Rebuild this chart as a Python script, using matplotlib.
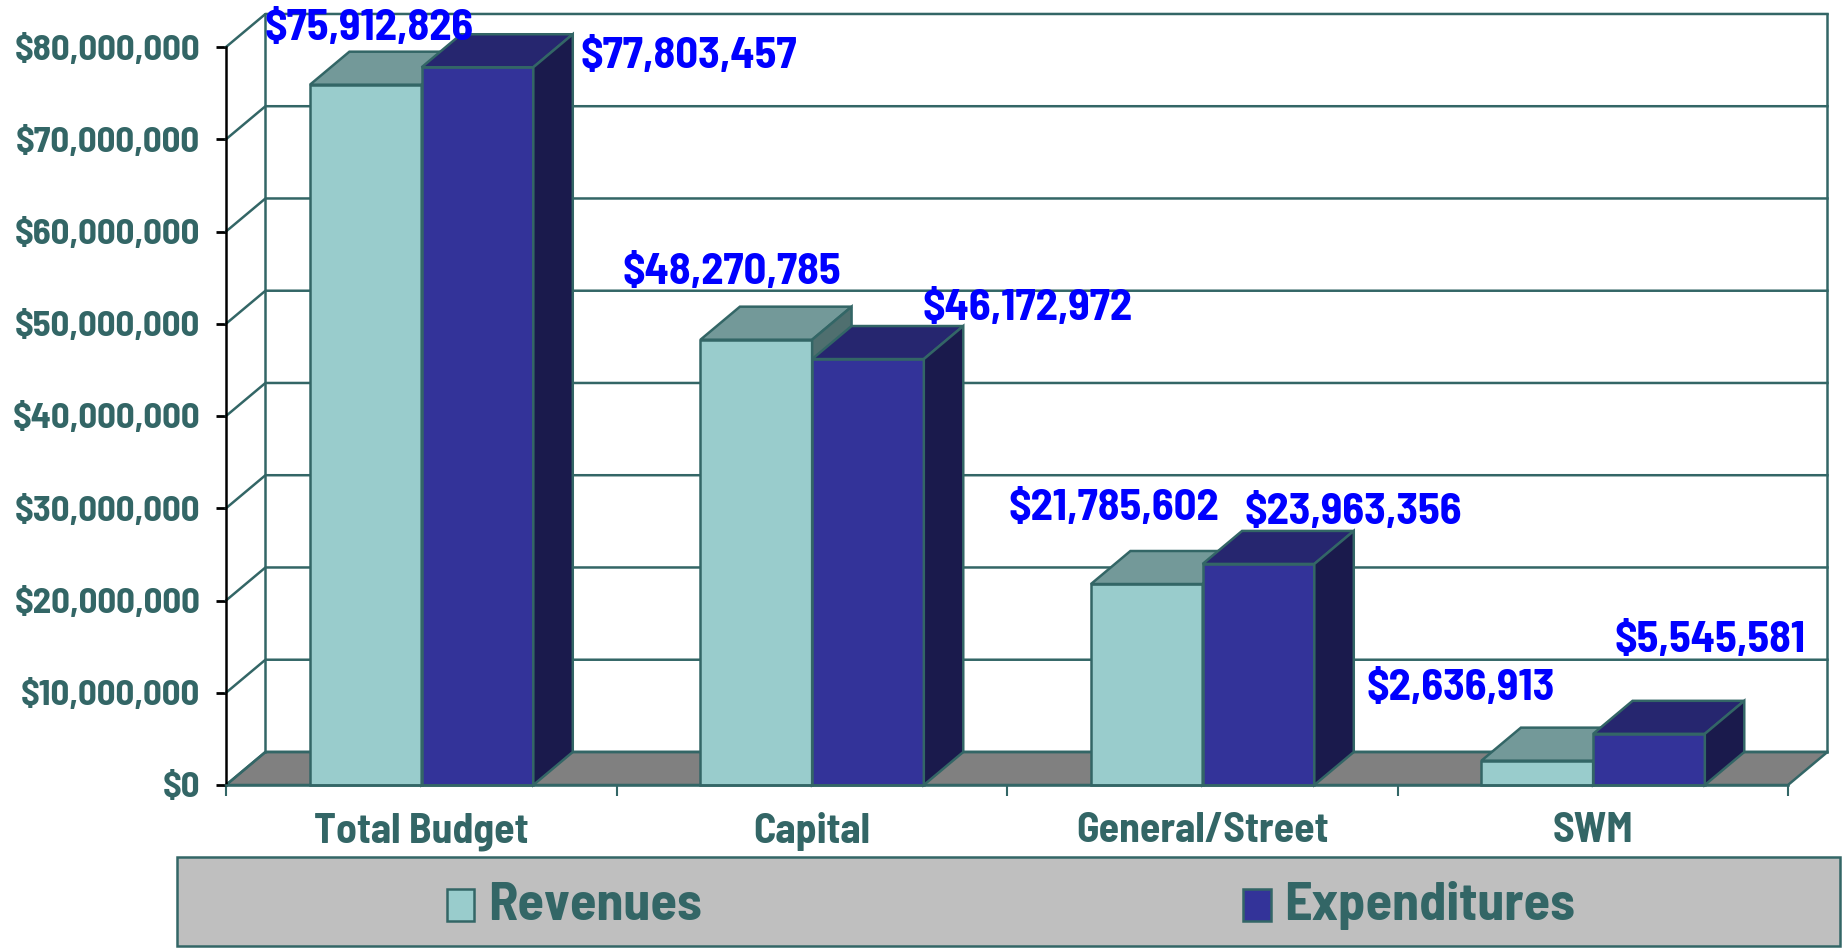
import matplotlib
matplotlib.use("Agg")
import matplotlib.pyplot as plt
from matplotlib.patches import Polygon, Rectangle

plt.rcParams['font.family'] = ['Barlow Semi Condensed', 'Liberation Sans', 'DejaVu Sans']
plt.rcParams['font.weight'] = 'bold'

categories = ["Total Budget", "Capital", "General/Street", "SWM"]
revenues = [75912826, 48270785, 21785602, 2636913]
expenditures = [77803457, 46172972, 23963356, 5545581]
y_ticks = [0, 10000000, 20000000, 30000000, 40000000, 50000000, 60000000, 70000000, 80000000]

TEAL = '#336666'
W, H = 1845, 950
# 3d look: how far the back wall sits from the front, in data units
DX = 0.101
DY = 3.58e6
BAR_OFF = 0.215
BAR_W = 0.286
LW = 1.8

fig = plt.figure(figsize=(W / 100, H / 100), dpi=100, facecolor='white')
ax = fig.add_axes([226 / W, (H - 785) / H, (1788 - 226) / W, (785 - 47) / H])
ax.set_xlim(0, 4)
ax.set_ylim(0, 80e6)
ax.patch.set_visible(False)


def poly(pts, fc, z):
    ax.add_patch(Polygon(pts, closed=True, facecolor=fc, edgecolor=TEAL, lw=LW,
                         clip_on=False, zorder=z, joinstyle='miter'))


def bar3d(x, val, front, top, side, z):
    r = x + BAR_W
    poly([(x, 0), (r, 0), (r, val), (x, val)], front, z)
    poly([(x, val), (r, val), (r + DX, val + DY), (x + DX, val + DY)], top, z)
    poly([(r, 0), (r + DX, DY), (r + DX, val + DY), (r, val)], side, z)


# floor and walls
poly([(0, 0), (4, 0), (4 + DX, DY), (DX, DY)], '#808080', 1)
for t in y_ticks:
    ax.plot([0, DX, 4 + DX], [t, t + DY, t + DY], color=TEAL, lw=LW, clip_on=False, zorder=2)
ax.plot([DX, DX], [DY, 80e6 + DY], color=TEAL, lw=LW, clip_on=False, zorder=2)
ax.plot([4 + DX, 4 + DX], [DY, 80e6 + DY], color=TEAL, lw=LW, clip_on=False, zorder=2)

for i in range(len(categories)):
    bar3d(i + BAR_OFF, revenues[i], '#99CCCC', '#739999', '#4F6F6F', 3)
    bar3d(i + BAR_OFF + BAR_W, expenditures[i], '#333399', '#26266F', '#1A1A4C', 4)

# axes
for s in ['top', 'right']:
    ax.spines[s].set_visible(False)
ax.spines['left'].set_color('black')
ax.spines['left'].set_linewidth(LW)
ax.spines['left'].set_zorder(5)
ax.spines['bottom'].set_color(TEAL)
ax.spines['bottom'].set_linewidth(LW)
ax.spines['bottom'].set_zorder(5)
ax.set_yticks(y_ticks)
ax.set_yticklabels(['${:,}'.format(t) for t in y_ticks], fontsize=26.5, color=TEAL, fontweight='bold')
ax.tick_params(axis='y', length=7.5, width=2, color='black', pad=11)
ax.set_xticks(range(5))
ax.set_xticklabels([])
ax.tick_params(axis='x', length=8, width=1.5, color=TEAL)
ax.set_xticks([i + 0.5 for i in range(4)], minor=True)
ax.set_xticklabels(categories, minor=True, fontsize=30, color=TEAL, fontweight='bold')
ax.tick_params(axis='x', which='minor', length=0, pad=19.5)


# value labels, placed by pixel in the figure
def px_text(x, y, s, **kw):
    fig.text(x / W, 1 - y / H, s, va='center', fontweight='bold', **kw)


label_xs = [[265, 581], [622, 922], [1008, 1244], [1367, 1614]]
label_ys = [[29, 56], [272, 308], [508, 513], [688, 641]]
for i in range(4):
    px_text(label_xs[i][0], label_ys[i][0], '${:,}'.format(revenues[i]), fontsize=32, color='#0000FF', zorder=10)
    px_text(label_xs[i][1], label_ys[i][1], '${:,}'.format(expenditures[i]), fontsize=32, color='#0000FF', zorder=10)

# legend band
fig.add_artist(Rectangle((177 / W, 1 - 946 / H), (1840 - 177) / W, 89 / H, transform=fig.transFigure,
                         facecolor='#BFBFBF', edgecolor=TEAL, lw=LW))
fig.add_artist(Rectangle((447 / W, 1 - 921 / H), 27 / W, 32 / H, transform=fig.transFigure,
                         facecolor='#99CCCC', edgecolor=TEAL, lw=LW))
fig.add_artist(Rectangle((1243 / W, 1 - 921 / H), 28 / W, 32 / H, transform=fig.transFigure,
                         facecolor='#333399', edgecolor=TEAL, lw=LW))
px_text(488, 906, 'Revenues', fontsize=39, color=TEAL)
px_text(1284, 906, 'Expenditures', fontsize=39, color=TEAL)

fig.savefig('out.png', dpi=100)
